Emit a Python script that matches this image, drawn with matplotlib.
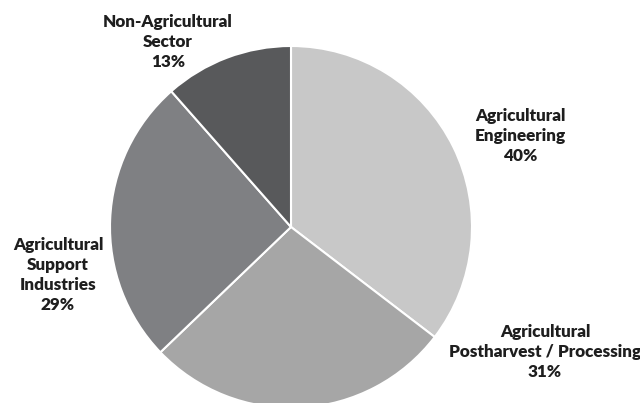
import matplotlib.pyplot as plt

# sector shares as printed on the chart
sectors = ["Agricultural\nEngineering", "Agricultural\nPostharvest / Processing",
           "Agricultural\nSupport\nIndustries", "Non-Agricultural\nSector"]
shares = [40, 31, 29, 13]
colors = ["#c8c8c8", "#a6a6a6", "#7f8083", "#58595b"]

# label anchor points in pixel space (x, y from top)
label_pos = [(520, 136), (545, 352), (58, 275), (168, 42)]

W, H = 640, 403
fig = plt.figure(figsize=(W / 100, H / 100), dpi=100)
ax = fig.add_axes([0, 0, 1, 1])

ax.pie(shares, colors=colors, startangle=90, counterclock=False,
       center=(291, H - 227), radius=181,
       wedgeprops=dict(edgecolor="white", linewidth=1.5))

for name, val, (x, y) in zip(sectors, shares, label_pos):
    ax.text(x, H - y, f"{name}\n{val}%", ha="center", va="center",
            fontsize=12.3, fontweight="heavy", family="Lato",
            color="#1e1e1e", linespacing=1.32)

ax.set_xlim(0, W)
ax.set_ylim(0, H)
ax.set_aspect("equal")
ax.axis("off")

fig.savefig("out.png", dpi=100)
